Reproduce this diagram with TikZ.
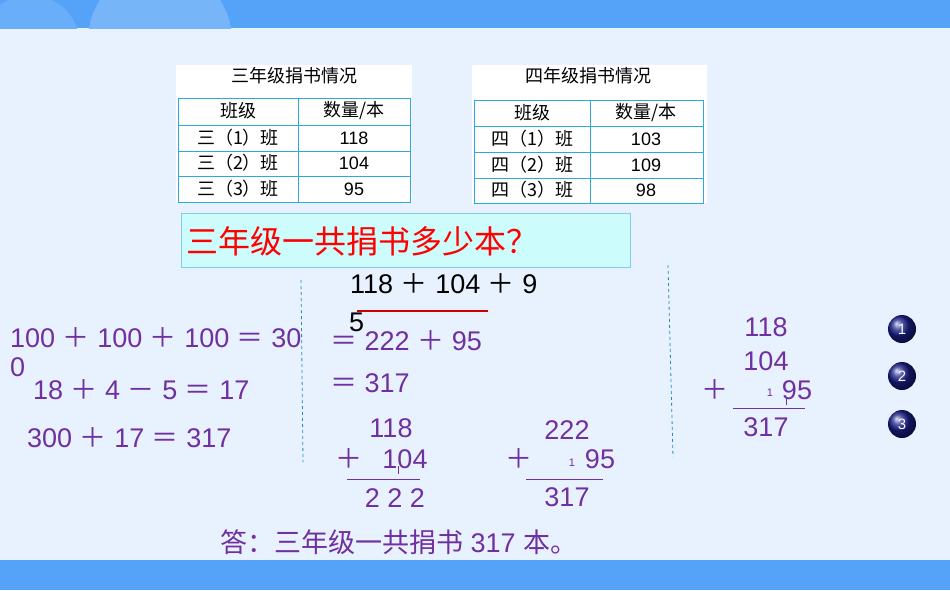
\documentclass[tikz,border=0pt]{standalone}
\usepackage{fontspec}
\setmainfont{Liberation Sans}
\newfontfamily\cjk{Noto Sans CJK SC}
\newcommand{\Pl}{ {\cjk ＋} }
\newcommand{\Eq}{ {\cjk ＝} }
\newcommand{\Mi}{ {\cjk －} }
\begin{document}
\begin{tikzpicture}[x=1pt,y=-1pt,
  pur/.style={text=purp,font=\fontsize{27}{27}\selectfont,inner sep=0},
  cell/.style={font=\cjk\fontsize{18}{18}\selectfont,inner sep=0},
  num/.style={font=\fontsize{18}{18}\selectfont,inner sep=0},
  dline/.style={draw=dashblue,dashed,line width=0.8pt},
  tline/.style={draw=tblue,line width=1pt},
  ball/.style={circle,minimum size=28pt,inner sep=0,ball color=navy,text=white,font=\fontsize{15}{15}\selectfont}]
\definecolor{bg}{HTML}{E8F2FE}
\definecolor{barblue}{HTML}{55A3F8}
\definecolor{purp}{HTML}{7030A0}
\definecolor{tblue}{HTML}{2FA8E0}
\definecolor{dashblue}{HTML}{2A8AC8}
\definecolor{navy}{HTML}{1A1F8A}
\definecolor{qfill}{HTML}{CCFCFC}
\useasboundingbox (0,0) rectangle (950,590);
\fill[bg] (0,0) rectangle (950,590);
\fill[barblue] (0,0) rectangle (950,28);
\begin{scope}
\clip (0,0) rectangle (950,28);
\fill[barblue!80!white] (160,40) circle[radius=72];
\fill[barblue!88!white] (30,45) circle[radius=50];
\end{scope}
\fill[barblue] (0,560) rectangle (950,590);
% table 1
\fill[white] (176,65) rectangle (412,202);
\node[cell] (t1) at (294,76) {三年级捐书情况};
\draw[tline] (178,98) rectangle (410,202);
\foreach \y in {125,151,176} \draw[tline] (178,\y) -- (410,\y);
\draw[tline] (298,98) -- (298,202);
\node[cell] (a1) at (238,111) {班级};
\node[cell] (a2) at (354,111) {数量/本};
\node[cell] (a3) at (238,138) {三（1）班};
\node[num] (a4) at (354,138) {118};
\node[cell] (a5) at (238,163) {三（2）班};
\node[num] (a6) at (354,163) {104};
\node[cell] (a7) at (238,189) {三（3）班};
\node[num] (a8) at (354,189) {95};
% table 2
\fill[white] (472,65) rectangle (707,203);
\node[cell] (t2) at (588,76) {四年级捐书情况};
\draw[tline] (474,100) rectangle (703,203);
\foreach \y in {126,152,178} \draw[tline] (474,\y) -- (703,\y);
\draw[tline] (590,100) -- (590,203);
\node[cell] (b1) at (532,113) {班级};
\node[cell] (b2) at (646,113) {数量/本};
\node[cell] (b3) at (532,139) {四（1）班};
\node[num] (b4) at (646,139) {103};
\node[cell] (b5) at (532,165) {四（2）班};
\node[num] (b6) at (646,165) {109};
\node[cell] (b7) at (532,190) {四（3）班};
\node[num] (b8) at (646,190) {98};
% question
\node[draw=tblue!60,fill=qfill,minimum width=449pt,minimum height=54pt,anchor=north west,inner sep=0] (q) at (181,213) {};
\node[text=red,font=\cjk\fontsize{32}{32}\selectfont,anchor=west,inner sep=0] (qt) at (186,241) {三年级一共捐书多少本？};
% dashed lines
\coordinate (d1a) at (301,280); \coordinate (d1b) at (303,462);
\coordinate (d2a) at (668,265); \coordinate (d2b) at (673,457);
\draw[dline] (d1a) -- (d1b);
\draw[dline] (d2a) -- (d2b);
% middle expression
\node[font=\fontsize{27}{27}\selectfont,anchor=west,inner sep=0] (e1) at (350,284) {118\Pl104\Pl9};
\node[font=\fontsize{27}{27}\selectfont,anchor=west,inner sep=0] (e2) at (349,322) {5};
\coordinate (r1) at (357,311); \coordinate (r2) at (488,311);
\draw[red!80!black,line width=1.5pt] (r1) -- (r2);
\node[pur,anchor=west] (m1) at (330,341) {{\cjk ＝} 222\Pl95};
\node[pur,anchor=west] (m2) at (330,383) {{\cjk ＝} 317};
% left
\node[pur,anchor=west] (l1) at (10,338) {100\Pl100\Pl100\Eq30};
\node[pur,anchor=west] (l0) at (10,367) {0};
\node[pur,anchor=west] (l2) at (33,390) {18\Pl4\Mi5\Eq17};
\node[pur,anchor=west] (l3) at (27,438) {300\Pl17\Eq317};
% vertical 1
\node[pur] (v1) at (391,428) {118};
\node[pur] (v2) at (349,459) {{\cjk ＋}};
\node[pur] (v3) at (405,459) {104};
\coordinate (c1) at (398,466); \coordinate (c2) at (398,474);
\draw[purp,line width=0.6pt] (c1) -- (c2);
\coordinate (u1) at (347,479); \coordinate (u2) at (420,479);
\draw[purp,line width=1pt] (u1) -- (u2);
\node[pur] (v4) at (395,498) {2 2 2};
% vertical 2
\node[pur] (w1) at (567,430) {222};
\node[pur] (w2) at (519,459) {{\cjk ＋}};
\node[text=purp,font=\fontsize{11}{11}\selectfont,inner sep=0] (w3) at (572,463) {1};
\node[pur] (w4) at (600,459) {95};
\coordinate (x1) at (526,479); \coordinate (x2) at (603,479);
\draw[purp,line width=1pt] (x1) -- (x2);
\node[pur] (w5) at (567,497) {317};
% right vertical
\node[pur] (z1) at (766,327) {118};
\node[pur] (z2) at (766,361) {104};
\node[pur] (z3) at (715,390) {{\cjk ＋}};
\node[text=purp,font=\fontsize{11}{11}\selectfont,inner sep=0] (z4) at (770,393) {1};
\node[pur] (z5) at (797,390) {95};
\coordinate (y1) at (733,408); \coordinate (y2) at (805,408);
\draw[purp,line width=1pt] (y1) -- (y2);
\coordinate (k1) at (786,397); \coordinate (k2) at (786,405);
\draw[purp,line width=0.6pt] (k1) -- (k2);
\node[pur] (z6) at (766,427) {317};
% balls
\node[ball] (n1) at (902,329) {1};
\node[ball] (n2) at (902,376) {2};
\node[ball] (n3) at (902,424) {3};
% answer
\node[text=purp,font=\cjk\fontsize{27}{27}\selectfont,inner sep=0,anchor=west] (ans) at (220,542) {答：三年级一共捐书{\rmfamily\ 317 }本。};
\end{tikzpicture}
\end{document}
